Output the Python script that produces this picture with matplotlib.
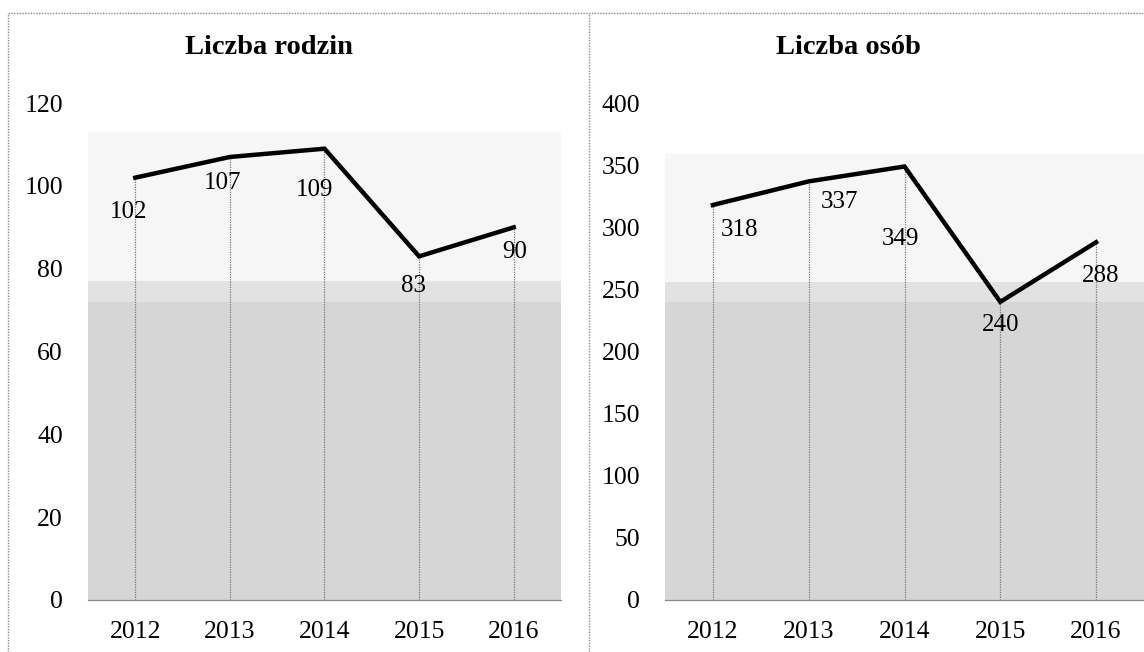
import matplotlib.pyplot as plt
from matplotlib.lines import Line2D

years = ['2012', '2013', '2014', '2015', '2016']
rodziny = [102, 107, 109, 83, 90]
osoby = [318, 337, 349, 240, 288]

plt.rcParams['font.family'] = ['Liberation Serif', 'DejaVu Serif']

fig = plt.figure(figsize=(11.44, 6.52), dpi=100)

# (values, title, ymax, ystep, shade levels, label offsets in points, axes box)
panels = [
    (rodziny, 'Liczba rodzin', 120, 20, (77, 72),
     [(-5, -25), (-5, -19), (-7, -30), (-4, -21), (1, -18)],
     [0.0769, 0.0798, 0.4135, 0.762]),
    (osoby, 'Liczba osób', 400, 50, (256, 240),
     [(19, -18), (22, -15), (-3, -52), (0, -17), (3, -24)],
     [0.5813, 0.0798, 0.4187, 0.762]),
]

for vals, title, ymax, ystep, shade, offs, pos in panels:
    ax = fig.add_axes(pos)
    x = range(len(years))
    # scan-like grey background
    ax.axhspan(0, shade[0], color='#e2e2e2', lw=0, zorder=0)
    ax.axhspan(0, shade[1], color='#d6d6d6', lw=0, zorder=0)
    ax.axhspan(shade[0], vals[2] + ystep * 0.2, color='#f6f6f6', lw=0, zorder=0)
    ax.vlines(x, 0, vals, colors='#777777', linestyles=(0, (1, 1)), lw=0.9, zorder=1)
    ax.plot(x, vals, color='black', lw=3.2, solid_joinstyle='miter', zorder=3)
    for xi, v, (dx, dy) in zip(x, vals, offs):
        ax.annotate(str(v), (xi, v), xytext=(dx, dy), textcoords='offset points',
                    ha='center', va='center', fontsize=18, zorder=4)
    ax.set_xlim(-0.5, len(years) - 0.5)
    ax.set_ylim(0, ymax)
    ax.set_yticks(range(0, ymax + 1, ystep))
    ax.set_xticks(list(x))
    ax.set_xticklabels(years)
    ax.tick_params(length=0, labelsize=18.5)
    ax.tick_params(axis='y', pad=18)
    ax.tick_params(axis='x', pad=15)
    for s in ['top', 'right', 'left']:
        ax.spines[s].set_visible(False)
    ax.spines['bottom'].set_color('#888888')
    ax.spines['bottom'].set_linestyle((0, (1, 1)))
    ax.spines['bottom'].set_linewidth(0.9)
    ax.set_facecolor('none')
    ax.text(0.383, 1.111, title, transform=ax.transAxes, ha='center', va='center',
            fontsize=20.5, fontweight='bold')

# dotted frame of the scanned page
W, H = 1144, 652
frame = dict(color='#888888', lw=1.0, linestyle=(0, (1, 1)))
fig.add_artist(Line2D([8 / W, 1], [1 - 13 / H, 1 - 13 / H], **frame))
fig.add_artist(Line2D([8 / W, 8 / W], [0, 1 - 13 / H], **frame))
fig.add_artist(Line2D([589 / W, 589 / W], [0, 1 - 13 / H], **frame))

fig.savefig('out.png', dpi=100)
